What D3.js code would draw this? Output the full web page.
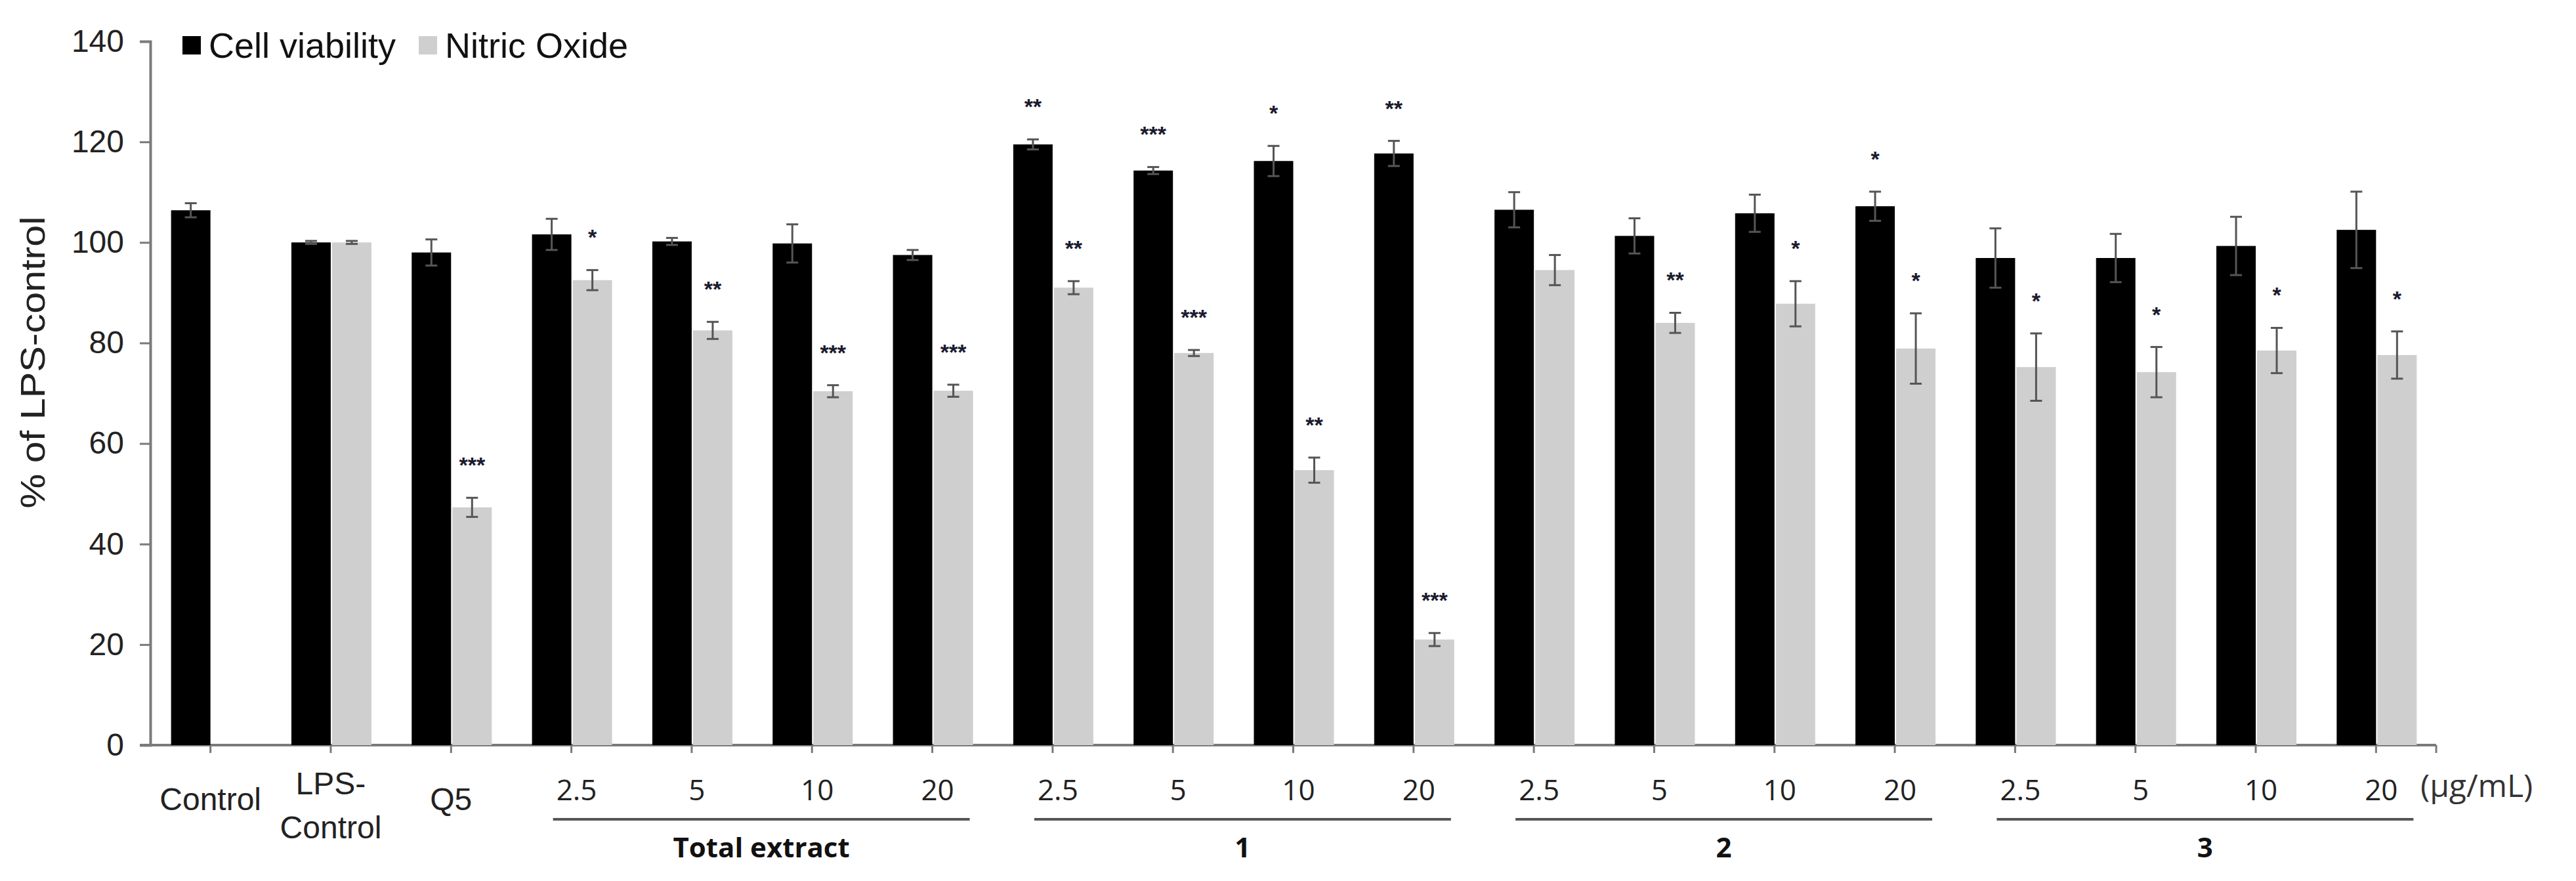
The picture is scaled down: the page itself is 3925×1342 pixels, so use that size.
<!DOCTYPE html>
<html>
<head>
<meta charset="utf-8">
<script src="https://cdn.jsdelivr.net/npm/d3@7"></script>
<style>
  body { margin: 0; background: #fff; }
  svg { display: block; }
</style>
</head>
<body>
<svg id="chart" width="3925" height="1342"></svg>
<script>
var categories = ["Control", "LPS-Control", "Q5",
  "TE 2.5", "TE 5", "TE 10", "TE 20",
  "1 2.5", "1 5", "1 10", "1 20",
  "2 2.5", "2 5", "2 10", "2 20",
  "3 2.5", "3 5", "3 10", "3 20"]
var tickLabels = [["Control"], ["LPS-", "Control"], ["Q5"],
  ["2.5"], ["5"], ["10"], ["20"],
  ["2.5"], ["5"], ["10"], ["20"],
  ["2.5"], ["5"], ["10"], ["20"],
  ["2.5"], ["5"], ["10"], ["20"]]
var viability = [106.4, 100, 98.0, 101.6, 100.2, 99.8, 97.5, 119.5, 114.3, 116.2, 117.7, 106.5, 101.3, 105.8, 107.2, 96.9, 96.9, 99.3, 102.5]
var viabilityErr = [1.4, 0.3, 2.6, 3.1, 0.7, 3.8, 1.0, 1.0, 0.7, 3.0, 2.5, 3.5, 3.5, 3.7, 2.9, 5.9, 4.8, 5.8, 7.6]
var nitricOxide = [null, 100, 47.3, 92.5, 82.5, 70.4, 70.5, 91.0, 78.0, 54.7, 21.0, 94.5, 84.0, 87.8, 78.9, 75.2, 74.2, 78.5, 77.6]
var nitricOxideErr = [0, 0.3, 1.9, 2.0, 1.7, 1.2, 1.2, 1.3, 0.6, 2.5, 1.3, 3.0, 2.0, 4.5, 7.0, 6.7, 5.0, 4.5, 4.7]
var sigViability = ["", "", "", "", "", "", "", "**", "***", "*", "**", "", "", "", "*", "", "", "", ""]
var sigNitricOxide = ["", "", "***", "*", "**", "***", "***", "**", "***", "**", "***", "", "**", "*", "*", "*", "*", "*", "*"]
var groups = [
  { name: "Total extract", from: "TE 2.5", to: "TE 20" },
  { name: "1", from: "1 2.5", to: "1 20" },
  { name: "2", from: "2 2.5", to: "2 20" },
  { name: "3", from: "3 2.5", to: "3 20" }
]
var yTicks = [0, 20, 40, 60, 80, 100, 120, 140]

var svg = d3.select("#chart")
var axisColor = "#7a7a7a"
var errColor = "#555"

var x = d3.scaleBand().domain(categories).range([229, 3712]).padding(0)
var y = d3.scaleLinear().domain([0, 140]).range([1135, 63])
var center = function(c) { return x(c) + x.bandwidth() / 2 }
var barW = 60

// y axis
var yAxis = svg.append("g")
  .attr("transform", "translate(229,0)")
  .call(d3.axisLeft(y).tickValues(yTicks).tickSize(16).tickPadding(24))
yAxis.select(".domain").attr("stroke", axisColor).attr("stroke-width", 4)
yAxis.selectAll(".tick line").attr("stroke", axisColor).attr("stroke-width", 3)
yAxis.selectAll(".tick text").attr("font-family", "Arial, 'Liberation Sans'").attr("font-size", 48).attr("fill", "#222")

// x axis
svg.append("line")
  .attr("x1", 213).attr("x2", 3712).attr("y1", y(0)).attr("y2", y(0))
  .attr("stroke", axisColor).attr("stroke-width", 4)
svg.selectAll(".xtick").data(categories.concat(["end"])).enter().append("line")
  .attr("x1", function(d) { return d == "end" ? 3712 : center(d) })
  .attr("x2", function(d) { return d == "end" ? 3712 : center(d) })
  .attr("y1", y(0)).attr("y2", y(0) + 12)
  .attr("stroke", axisColor).attr("stroke-width", 3)

// bars
svg.selectAll(".via").data(categories).enter().append("rect")
  .attr("x", function(d) { return center(d) - barW })
  .attr("width", barW)
  .attr("y", function(d, i) { return y(viability[i]) })
  .attr("height", function(d, i) { return y(0) - y(viability[i]) })
  .attr("fill", "#000")
svg.selectAll(".no").data(categories.filter(function(d, i) { return nitricOxide[i] != null })).enter().append("rect")
  .attr("x", function(d) { return center(d) + 2 })
  .attr("width", barW)
  .attr("y", function(d) { return y(nitricOxide[categories.indexOf(d)]) })
  .attr("height", function(d) { return y(0) - y(nitricOxide[categories.indexOf(d)]) })
  .attr("fill", "#d0cfcf")

// error bars + stars
function errBars(values, errs, sigs, offset) {
  categories.forEach(function(c, i) {
    if (values[i] == null) return
    var cx = center(c) + offset
    var g = svg.append("g").attr("stroke", errColor).attr("stroke-width", 3)
    var lo = values[i] - errs[i], hi = values[i] + errs[i]
    g.append("line").attr("x1", cx).attr("x2", cx).attr("y1", y(lo)).attr("y2", y(hi))
    g.append("line").attr("x1", cx - 9).attr("x2", cx + 9).attr("y1", y(lo)).attr("y2", y(lo))
    g.append("line").attr("x1", cx - 9).attr("x2", cx + 9).attr("y1", y(hi)).attr("y2", y(hi))
    if (sigs[i]) {
      svg.append("text")
        .attr("x", cx).attr("y", y(hi) - 38)
        .attr("text-anchor", "middle")
        .attr("font-family", "Arial, 'Liberation Sans'").attr("font-size", 34)
        .attr("font-weight", "bold").attr("fill", "#1a1a2e")
        .text(sigs[i])
    }
  })
}
errBars(viability, viabilityErr, sigViability, -barW / 2)
errBars(nitricOxide, nitricOxideErr, sigNitricOxide, barW / 2 + 2)

// category labels
categories.forEach(function(c, i) {
  var lines = tickLabels[i]
  var isDose = i > 2
  var t = svg.append("text")
    .attr("x", center(c) + (isDose ? 8 : 0))
    .attr("text-anchor", "middle")
    .attr("font-family", isDose ? "'Open Sans', 'Noto Sans'" : "Arial, 'Liberation Sans'")
    .attr("font-size", isDose ? 44 : 48)
    .attr("fill", "#222")
  if (lines.length == 1) {
    t.attr("y", isDose ? 1219 : 1234).text(lines[0])
  } else {
    t.append("tspan").attr("x", center(c)).attr("y", 1210).text(lines[0])
    t.append("tspan").attr("x", center(c)).attr("y", 1277).text(lines[1])
  }
})
svg.append("text")
  .attr("x", 3688).attr("y", 1214)
  .attr("font-family", "'Open Sans', 'Noto Sans'").attr("font-size", 48)
  .attr("fill", "#333").text("(\u00b5g/mL)")

// group underlines
groups.forEach(function(g) {
  var x1 = center(g.from) - 28, x2 = center(g.to) + 57
  svg.append("line").attr("x1", x1).attr("x2", x2).attr("y1", 1248).attr("y2", 1248)
    .attr("stroke", "#555").attr("stroke-width", 4)
  svg.append("text")
    .attr("x", (x1 + x2) / 2).attr("y", 1306)
    .attr("text-anchor", "middle")
    .attr("font-family", "'Open Sans', 'Noto Sans'").attr("font-size", 42).attr("font-weight", "bold")
    .attr("fill", "#111").text(g.name)
})

// y title
svg.append("text")
  .attr("transform", "translate(68,552) rotate(-90)")
  .attr("text-anchor", "middle")
  .attr("font-family", "Arial, 'Liberation Sans'").attr("font-size", 52)
  .attr("textLength", 445).attr("lengthAdjust", "spacingAndGlyphs")
  .attr("fill", "#222").text("% of LPS-control")

// legend
var legend = [{ label: "Cell viability", color: "#000", x: 278 }, { label: "Nitric Oxide", color: "#d0cfcf", x: 638 }]
legend.forEach(function(l) {
  svg.append("rect").attr("x", l.x).attr("y", 55).attr("width", 28).attr("height", 28).attr("fill", l.color)
  svg.append("text").attr("x", l.x + 40).attr("y", 88)
    .attr("font-family", "Arial, 'Liberation Sans'").attr("font-size", 54)
    .attr("fill", "#111").text(l.label)
})
</script>
</body>
</html>
